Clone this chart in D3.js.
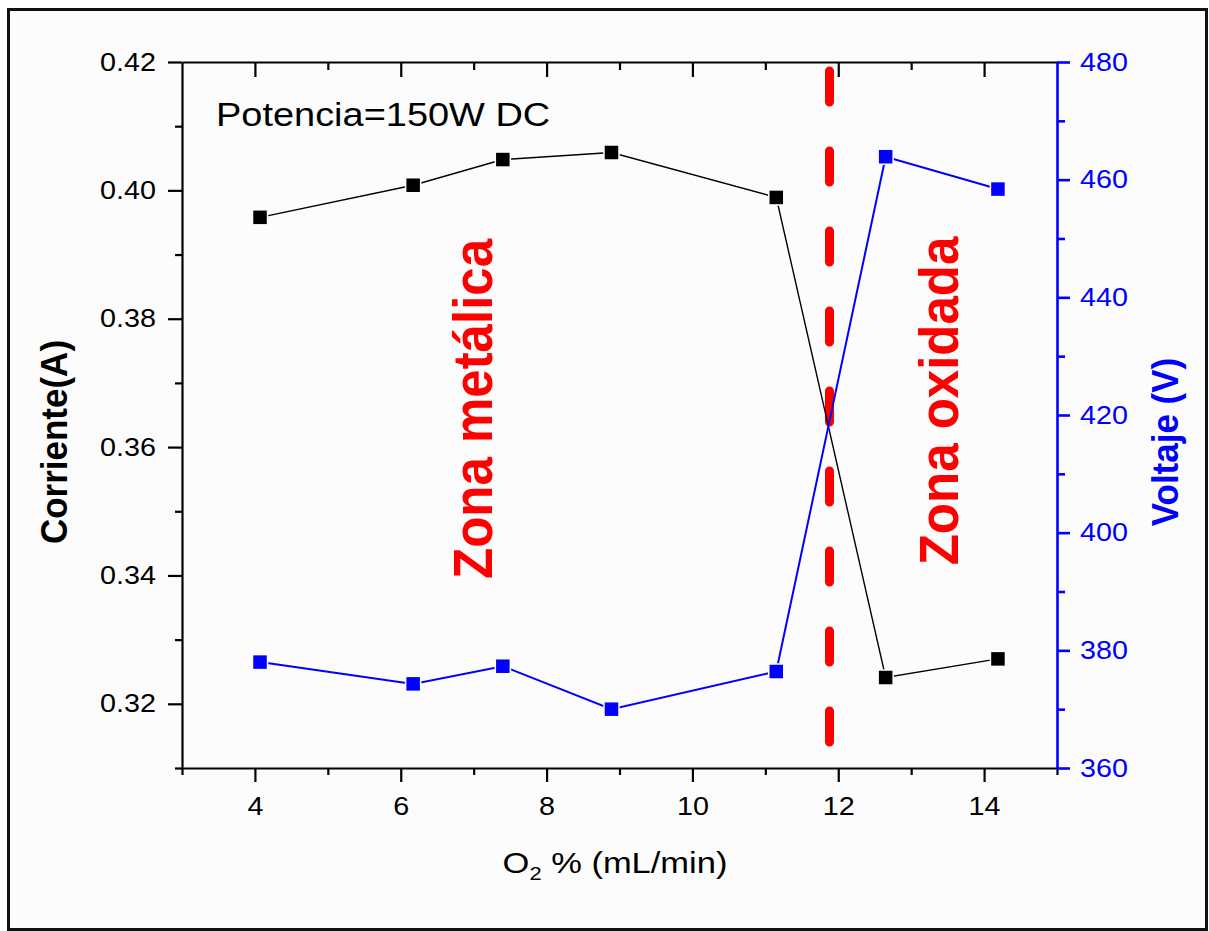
<!DOCTYPE html>
<html>
<head>
<meta charset="utf-8">
<script src="https://cdn.jsdelivr.net/npm/d3@7"></script>
<style>
  html, body { margin: 0; padding: 0; background: #ffffff; }
  svg { display: block; }
  text { font-family: "Liberation Sans", Arial, sans-serif; }
</style>
</head>
<body>
<svg id="chart" width="1209" height="931"></svg>
<script>
// ---- data ----
const oxygen = [4.07, 6.17, 7.40, 8.89, 11.15, 12.65, 14.19];
const corriente = [0.3958, 0.4008, 0.4048, 0.4059, 0.3989, 0.3241, 0.3270];
const voltaje = [378.0, 374.3, 377.3, 370.0, 376.4, 463.9, 458.4];
const xTicks = [4, 6, 8, 10, 12, 14];
const xMinor = [3, 5, 7, 9, 11, 13, 15];
const leftTicks = [0.32, 0.34, 0.36, 0.38, 0.40, 0.42];
const leftMinor = [0.31, 0.33, 0.35, 0.37, 0.39, 0.41];
const rightTicks = [360, 380, 400, 420, 440, 460, 480];
const rightMinor = [370, 390, 410, 430, 450, 470];
const boundaryX = 11.88;
const annotation = "Potencia=150W DC";
const zoneLeft = "Zona metálica";
const zoneRight = "Zona oxidada";

// ---- layout ----
const W = 1209, H = 931;
const L = 182, R = 1057, T = 62, B = 768;
const SX = 1.15;   // horizontal text stretch of the original
const SXR = 1.08;  // stretch used for rotated titles
const svg = d3.select("#chart");

const x = d3.scaleLinear().domain([3, 15]).range([L, R]);
const yL = d3.scaleLinear().domain([0.31, 0.42]).range([B, T]);
const yR = d3.scaleLinear().domain([360, 480]).range([B, T]);

// frame + background
svg.append("rect").attr("x", 8.5).attr("y", 9.5).attr("width", 1198).attr("height", 920)
  .attr("fill", "#fcfcfc").attr("stroke", "#111").attr("stroke-width", 3);

const MAJ = 14, MIN = 7;
function styleAxis(g, color, w) {
  g.selectAll(".domain").attr("stroke", color).attr("stroke-width", w);
  g.selectAll(".tick line").attr("stroke", color).attr("stroke-width", w);
}

// bottom axis
const gB = svg.append("g").attr("transform", `translate(0,${B})`)
  .call(d3.axisBottom(x).tickValues(xTicks).tickSize(MAJ).tickSizeOuter(0).tickPadding(15).tickFormat(d3.format("d")));
gB.call(styleAxis, "#000", 2.2);
gB.selectAll("text").attr("font-size", 25).attr("fill", "#000").attr("transform", `scale(${SX},1)`);
svg.append("g").attr("transform", `translate(0,${B})`)
  .call(d3.axisBottom(x).tickValues(xMinor).tickSize(MIN).tickSizeOuter(0).tickFormat(""))
  .call(styleAxis, "#000", 2.2).select(".domain").remove();

// top axis (ticks inward, no labels)
const gT = svg.append("g").attr("transform", `translate(0,${T})`)
  .call(d3.axisBottom(x).tickValues(xTicks).tickSize(MAJ + 1).tickSizeOuter(0).tickFormat(""));
gT.call(styleAxis, "#000", 2.2);
svg.append("g").attr("transform", `translate(0,${T})`)
  .call(d3.axisBottom(x).tickValues(xMinor.slice(1, -1)).tickSize(MIN + 1).tickSizeOuter(0).tickFormat(""))
  .call(styleAxis, "#000", 2.2).select(".domain").remove();

// left axis
const gL = svg.append("g").attr("transform", `translate(${L},0)`)
  .call(d3.axisLeft(yL).tickValues(leftTicks).tickSize(MAJ).tickSizeOuter(0).tickPadding(12).tickFormat(d3.format(".2f")));
gL.call(styleAxis, "#000", 2.2);
gL.selectAll("text").attr("font-size", 25).attr("fill", "#000")
  .attr("x", -(MAJ + 12) / SX).attr("transform", `scale(${SX},1)`);
svg.append("g").attr("transform", `translate(${L},0)`)
  .call(d3.axisLeft(yL).tickValues(leftMinor).tickSize(MIN).tickSizeOuter(0).tickFormat(""))
  .call(styleAxis, "#000", 2.2).select(".domain").remove();

// right axis (blue)
const BLUE = "#0000ff";
const gR = svg.append("g").attr("transform", `translate(${R},0)`)
  .call(d3.axisRight(yR).tickValues(rightTicks).tickSize(MAJ - 1).tickSizeOuter(0).tickPadding(10).tickFormat(d3.format("d")));
gR.call(styleAxis, BLUE, 2.6);
gR.selectAll("text").attr("font-size", 25).attr("fill", BLUE)
  .attr("x", (MAJ - 1 + 10) / SX).attr("transform", `scale(${SX},1)`);
svg.append("g").attr("transform", `translate(${R},0)`)
  .call(d3.axisRight(yR).tickValues(rightMinor).tickSize(MIN + 1).tickSizeOuter(0).tickFormat(""))
  .call(styleAxis, BLUE, 2.6).select(".domain").remove();

// text helper
function stretchedText(px, py, rot, str, size, weight, fill, anchor) {
  const g = svg.append("g").attr("transform", `translate(${px},${py}) rotate(${rot})`);
  const sx = rot === 0 ? SX : 1, sy = rot === 0 ? 1 : SXR;
  const t = g.append("text").attr("transform", `scale(${sx},${sy})`)
    .attr("font-size", size).attr("font-weight", weight).attr("fill", fill)
    .attr("text-anchor", anchor || "middle");
  t.text(str);
  return t;
}
// x title with subscript
{
  const g = svg.append("g").attr("transform", `translate(615,873)`);
  const t = g.append("text").attr("transform", `scale(${SX},1)`).attr("font-size", 30)
    .attr("fill", "#000").attr("text-anchor", "middle");
  t.append("tspan").text("O");
  t.append("tspan").attr("font-size", 19).attr("dy", 7).text("2");
  t.append("tspan").attr("dy", -7).text(" % (mL/min)");
}
stretchedText(67, 442, -90, "Corriente(A)", 35, "bold", "#000");
stretchedText(1178, 442, -90, "Voltaje (V)", 35, "bold", BLUE);

// annotation
stretchedText(216, 126, 0, annotation, 33, "normal", "#000", "start");

// zone labels
stretchedText(492, 409, -90, zoneLeft, 51, "bold", "#ff0000");
stretchedText(958, 401, -90, zoneRight, 51, "bold", "#ff0000");

// boundary dashed line
svg.append("line")
  .attr("x1", x(boundaryX)).attr("x2", x(boundaryX))
  .attr("y1", T + 9).attr("y2", B - 24)
  .attr("stroke", "#ff0000").attr("stroke-width", 9)
  .attr("stroke-linecap", "round").attr("stroke-dasharray", "31,49");

// series lines
const lineL = d3.line().x((d, i) => x(oxygen[i])).y(d => yL(d));
const lineR = d3.line().x((d, i) => x(oxygen[i])).y(d => yR(d));
svg.append("path").datum(corriente).attr("d", lineL)
  .attr("fill", "none").attr("stroke", "#000").attr("stroke-width", 1.4);
svg.append("path").datum(voltaje).attr("d", lineR)
  .attr("fill", "none").attr("stroke", BLUE).attr("stroke-width", 2);

// markers
const MS = 13.5;
svg.append("g").selectAll("rect").data(corriente).join("rect")
  .attr("x", (d, i) => x(oxygen[i]) - MS / 2).attr("y", d => yL(d) - MS / 2)
  .attr("width", MS).attr("height", MS).attr("fill", "#000")
  .attr("stroke", "#fcfcfc").attr("stroke-width", 3).attr("paint-order", "stroke");
svg.append("g").selectAll("rect").data(voltaje).join("rect")
  .attr("x", (d, i) => x(oxygen[i]) - MS / 2).attr("y", d => yR(d) - MS / 2)
  .attr("width", MS).attr("height", MS).attr("fill", BLUE)
  .attr("stroke", "#fcfcfc").attr("stroke-width", 3).attr("paint-order", "stroke");
</script>
</body>
</html>
